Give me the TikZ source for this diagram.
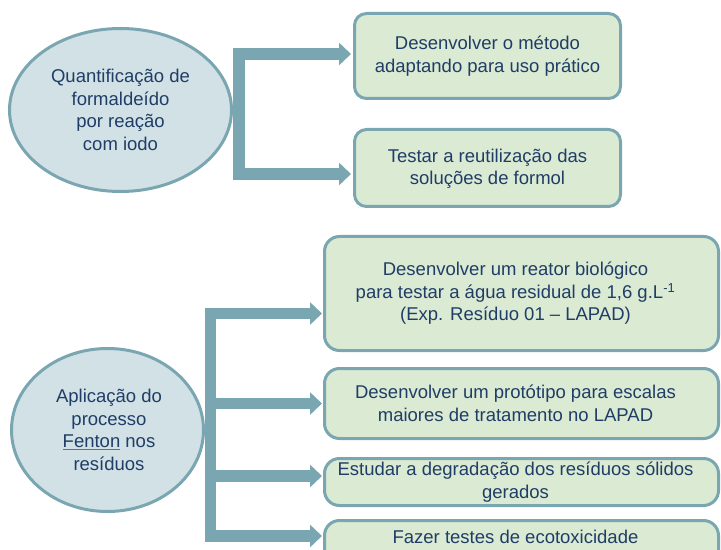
\documentclass[tikz,border=0pt]{standalone}
\usepackage{fontspec}
\setmainfont{Liberation Sans}
\usetikzlibrary{arrows.meta,shapes.geometric}
\definecolor{txt}{HTML}{1F3D66}
\definecolor{edgec}{HTML}{79A6B1}
\definecolor{efill}{HTML}{D1E1E5}
\definecolor{bfill}{HTML}{DBEAD3}
\begin{document}
\begin{tikzpicture}[x=1bp,y=-1bp,
  lbl/.style={font=\fontsize{18.5bp}{22.5bp}\selectfont, text=txt, align=center, inner sep=0pt},
  oval/.style={ellipse, draw=edgec, fill=efill, line width=3bp, inner sep=0pt},
  boxa/.style={rectangle, rounded corners=12bp, draw=edgec, fill=bfill, line width=3bp, inner sep=0pt},
  boxb/.style={rectangle, rounded corners=15bp, draw=edgec, fill=bfill, line width=3bp, inner sep=0pt},
  conn/.style={draw=edgec, line width=11.5bp, line join=miter},
  tip/.tip={Triangle[width=22bp,length=12bp]}]
\useasboundingbox (0,0) rectangle (721,550);
\clip (0,0) rectangle (721,550);
% top group
\node[oval, minimum width=222bp, minimum height=163bp] (e1) at (120.5,110) {};
\node[lbl] (te1) at (e1.center) {Quantificação de\\formaldeído\\por reação\\com iodo};
\node[boxa, minimum width=266bp, minimum height=85bp] (b1) at (487.5,56) {};
\node[lbl] (tb1) at (b1.center) {Desenvolver o método\\adaptando para uso prático};
\node[boxa, minimum width=266bp, minimum height=77bp] (b2) at (487.5,168) {};
\node[lbl] (tb2) at ([yshift=-1bp]b2.center) {Testar a reutilização das\\soluções de formol};
\coordinate (t1) at (239,54);
\coordinate (t2) at (239,174);
\draw[conn, tip-tip] ([xshift=-2bp]b1.west |- t1) -- (t1) -- (t2) -- ([xshift=-2bp]b2.west |- t2);
% bottom group
\node[oval, minimum width=192bp, minimum height=163bp] (e2) at (107.5,430) {};
\node[lbl] (te2) at ([xshift=1.5bp]e2.center) {Aplicação do\\processo\\{\color{red!80}\underline{\color{txt}Fenton}} nos\\resíduos};
\node[boxb, minimum width=394bp, minimum height=114bp] (bA) at (521.5,293.5) {};
\node[lbl] (tA) at ([xshift=-6bp]bA.center) {Desenvolver um reator biológico\\para testar a água residual de 1,6 g.L\textsuperscript{-1}\\(Exp. Resíduo 01 – LAPAD)};
\node[boxb, minimum width=394bp, minimum height=70bp] (bB) at (521.5,403.5) {};
\node[lbl] (tB) at ([xshift=-6bp]bB.center) {Desenvolver um protótipo para escalas\\maiores de tratamento no LAPAD};
\node[boxb, minimum width=394bp, minimum height=47bp] (bC) at (521.5,482) {};
\node[lbl] (tC) at ([xshift=-6bp]bC.center) {Estudar a degradação dos resíduos sólidos\\gerados};
\node[boxb, minimum width=394bp, minimum height=47bp] (bD) at (521.5,544) {};
\node[lbl] (tD) at ([xshift=-6bp,yshift=7bp]bD.center) {Fazer testes de ecotoxicidade};
\coordinate (u1) at (210.5,313.5);
\coordinate (u2) at (210.5,403.5);
\coordinate (u3) at (210.5,476);
\coordinate (u4) at (210.5,536);
\draw[conn, tip-tip] ([xshift=-1bp]bA.west |- u1) -- (u1) -- (u4) -- ([xshift=-1bp]bD.west |- u4);
\draw[conn, -tip] (u2) -- ([xshift=-1bp]bB.west |- u2);
\draw[conn, -tip] (u3) -- ([xshift=-1bp]bC.west |- u3);
\end{tikzpicture}
\end{document}
